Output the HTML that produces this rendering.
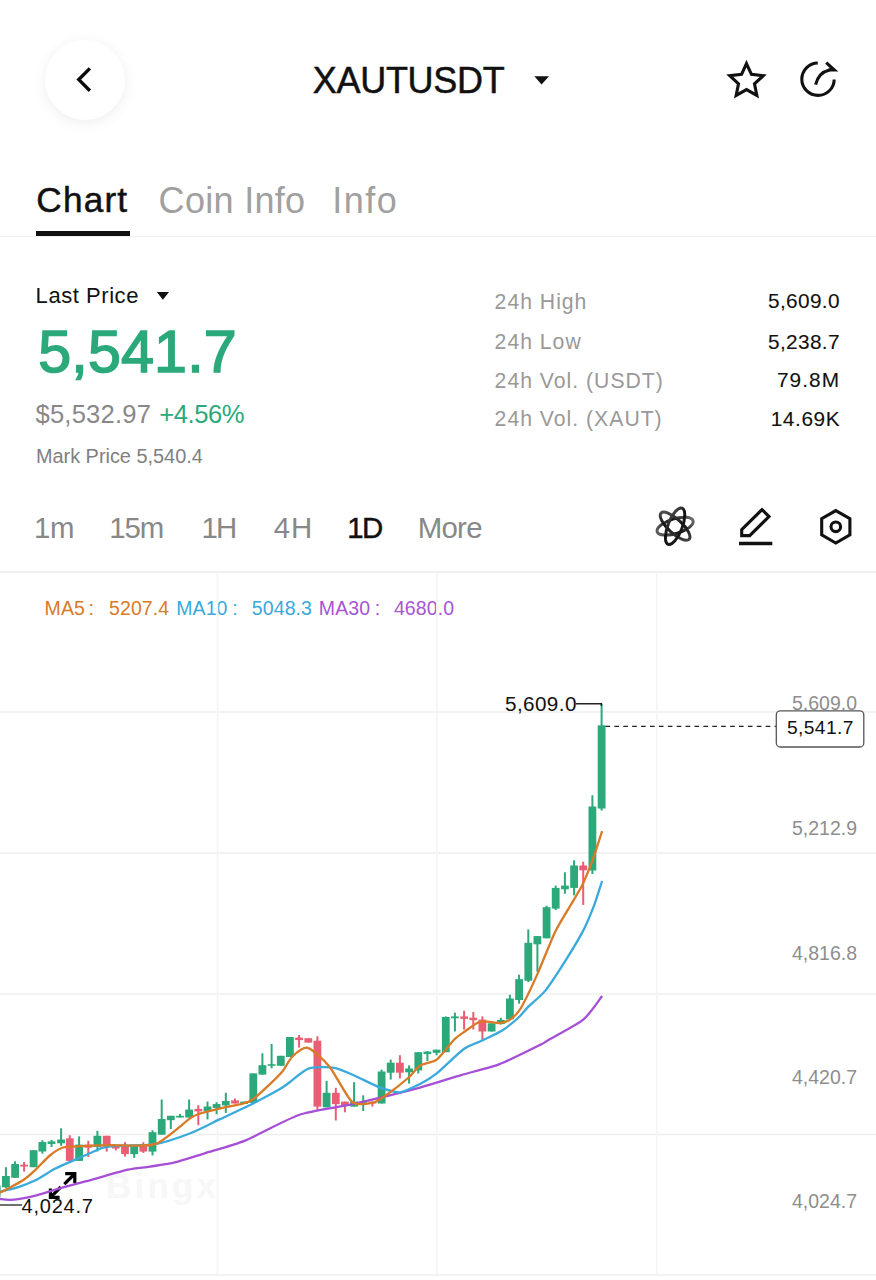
<!DOCTYPE html>
<html><head><meta charset="utf-8"><title>XAUTUSDT</title>
<style>
html,body{margin:0;padding:0;background:#fff;}
body{width:876px;height:1280px;position:relative;overflow:hidden;font-family:"Liberation Sans",sans-serif;}
.t{position:absolute;line-height:1;white-space:nowrap;font-family:"Liberation Sans",sans-serif;}
.ico{position:absolute;overflow:visible;}
.chart{position:absolute;left:0;top:0;}
.backbtn{position:absolute;left:45px;top:40px;width:80px;height:80px;border-radius:50%;background:#fff;box-shadow:0 3px 14px rgba(0,0,0,0.07);}
</style></head><body>
<div class="backbtn"></div><svg class="ico" style="left:0;top:0" width="876" height="240"><polyline points="89.9,68.4 78.8,79.6 89.9,90.8" fill="none" stroke="#0A0A0A" stroke-width="3.4"/><polygon points="534.3,76.2 549,76.2 541.6,84.6" fill="#111"/><polygon points="746.50,63.60 751.44,74.40 763.24,75.76 754.49,83.80 756.85,95.44 746.50,89.60 736.15,95.44 738.51,83.80 729.76,75.76 741.56,74.40" fill="none" stroke="#111" stroke-width="3.1" stroke-linejoin="miter" stroke-miterlimit="10"/><path d="M 817.8 63 A 16.2 16.2 0 1 0 834.2 79.4" fill="none" stroke="#111" stroke-width="3.1"/><path d="M 815.6 84.6 Q 818.5 72.5 829.5 70" fill="none" stroke="#111" stroke-width="3.1"/><polyline points="826.2,62.6 834.3,70 828.5,69.9" fill="none" stroke="#111" stroke-width="3.1" stroke-linejoin="miter"/></svg><div class="t" style="left:312.8px;top:63.1px;font-size:36.0px;color:#111;font-weight:400;letter-spacing:-0.3px;-webkit-text-stroke:0.5px #111;">XAUTUSDT</div>
<div class="t" style="left:36.3px;top:181.7px;font-size:35.2px;color:#111;font-weight:400;letter-spacing:1.2px;-webkit-text-stroke:0.5px #111;">Chart</div>
<div class="t" style="left:158.6px;top:182.8px;font-size:36.0px;color:#A0A0A0;font-weight:400;letter-spacing:0.3px;">Coin Info</div>
<div class="t" style="left:332.2px;top:182.8px;font-size:36.0px;color:#A0A0A0;font-weight:400;letter-spacing:1.5px;">Info</div>
<div style="position:absolute;left:36px;top:231px;width:94px;height:4.8px;background:#111"></div><div style="position:absolute;left:0;top:236px;width:876px;height:1.2px;background:#F0F0F0"></div><div class="t" style="left:35.6px;top:284.9px;font-size:22.0px;color:#111;font-weight:400;letter-spacing:0.55px;">Last Price</div>
<svg class="ico" style="left:150px;top:285px" width="30" height="20"><polygon points="6.8,7 19,7 12.9,14.7" fill="#111"/></svg><div class="t" style="left:38.3px;top:321.9px;font-size:59.2px;color:#2CA97A;font-weight:400;letter-spacing:0.15px;-webkit-text-stroke:1.6px #2CA97A;">5,541.7</div>
<div class="t" style="left:35.5px;top:401.6px;font-size:25.6px;color:#888;font-weight:400;letter-spacing:0.2px;">$5,532.97</div>
<div class="t" style="left:159.3px;top:401.6px;font-size:25.6px;color:#2CA97A;font-weight:400;letter-spacing:-0.45px;">+4.56%</div>
<div class="t" style="left:35.9px;top:447.0px;font-size:19.9px;color:#808080;font-weight:400;">Mark Price 5,540.4</div>
<div class="t" style="left:494.6px;top:290.7px;font-size:21.2px;color:#999;font-weight:400;letter-spacing:1.0px;">24h High</div>
<div class="t" style="left:768.0px;top:291.0px;font-size:20.8px;color:#111;font-weight:400;letter-spacing:0.35px;-webkit-text-stroke:0.1px #111;">5,609.0</div>
<div class="t" style="left:494.6px;top:331.2px;font-size:21.2px;color:#999;font-weight:400;letter-spacing:1.0px;">24h Low</div>
<div class="t" style="left:768.0px;top:331.5px;font-size:20.8px;color:#111;font-weight:400;letter-spacing:0.35px;-webkit-text-stroke:0.1px #111;">5,238.7</div>
<div class="t" style="left:494.6px;top:369.8px;font-size:21.2px;color:#999;font-weight:400;letter-spacing:1.0px;">24h Vol. (USDT)</div>
<div class="t" style="left:776.9px;top:370.1px;font-size:20.8px;color:#111;font-weight:400;letter-spacing:1.1px;-webkit-text-stroke:0.1px #111;">79.8M</div>
<div class="t" style="left:494.6px;top:408.3px;font-size:21.2px;color:#999;font-weight:400;letter-spacing:1.0px;">24h Vol. (XAUT)</div>
<div class="t" style="left:770.7px;top:408.6px;font-size:20.8px;color:#111;font-weight:400;letter-spacing:0.6px;-webkit-text-stroke:0.1px #111;">14.69K</div>
<div class="t" style="left:34.0px;top:512.8px;font-size:29.4px;color:#888;font-weight:400;letter-spacing:-0.4px;">1m</div>
<div class="t" style="left:109.2px;top:512.8px;font-size:29.4px;color:#888;font-weight:400;letter-spacing:-1.1px;">15m</div>
<div class="t" style="left:201.5px;top:512.8px;font-size:29.4px;color:#888;font-weight:400;letter-spacing:-1.9px;">1H</div>
<div class="t" style="left:273.8px;top:512.8px;font-size:29.4px;color:#888;font-weight:400;letter-spacing:0.9px;">4H</div>
<div class="t" style="left:347.3px;top:512.8px;font-size:29.4px;color:#111;font-weight:400;letter-spacing:-1.6px;-webkit-text-stroke:0.45px #111;">1D</div>
<div class="t" style="left:417.7px;top:512.8px;font-size:29.4px;color:#888;font-weight:400;letter-spacing:-0.7px;">More</div>
<div style="position:absolute;left:0;top:571px;width:876px;height:1.5px;background:#F0F0F0"></div><svg class="ico" style="left:0;top:0" width="876" height="600"><defs><linearGradient id="ga" gradientUnits="userSpaceOnUse" x1="695" y1="519" x2="656" y2="532"><stop offset="0" stop-color="#777"/><stop offset="0.5" stop-color="#111"/><stop offset="1" stop-color="#666"/></linearGradient><linearGradient id="gb" gradientUnits="userSpaceOnUse" x1="661" y1="512" x2="690" y2="541"><stop offset="0" stop-color="#666"/><stop offset="0.45" stop-color="#111"/><stop offset="1" stop-color="#555"/></linearGradient><linearGradient id="gc" gradientUnits="userSpaceOnUse" x1="682" y1="507" x2="669" y2="546"><stop offset="0" stop-color="#222"/><stop offset="0.55" stop-color="#111"/><stop offset="1" stop-color="#888"/></linearGradient></defs><g fill="none" stroke-width="3"><ellipse cx="675.1" cy="526.2" rx="18.8" ry="7.4" transform="rotate(-17 675.1 526.2)" stroke="url(#ga)"/><ellipse cx="675.1" cy="526.2" rx="19.2" ry="7" transform="rotate(43 675.1 526.2)" stroke="url(#gb)"/><ellipse cx="675.1" cy="526.2" rx="19.4" ry="7.2" transform="rotate(111 675.1 526.2)" stroke="url(#gc)"/></g><g fill="none" stroke="#111" stroke-width="3.1"><polygon points="741.7,529.6 762,509.6 769,516.6 749.7,535.6 741.7,535.6" stroke-linejoin="miter"/><line x1="739" y1="543.6" x2="772.3" y2="543.6" stroke-width="3.5"/><polygon points="835.8,510.6 849.9,518.7 849.9,534.9 835.8,543 821.7,534.9 821.7,518.7" stroke-linejoin="miter"/><circle cx="835.8" cy="526.8" r="4.8"/></g></svg><div class="t" style="left:44.6px;top:598.8px;font-size:19.5px;color:#D97A26;font-weight:400;letter-spacing:0.1px;">MA5</div>
<div class="t" style="left:88.6px;top:598.8px;font-size:19.5px;color:#D97A26;font-weight:400;letter-spacing:0.1px;">:</div>
<div class="t" style="left:109.0px;top:598.8px;font-size:19.5px;color:#D97A26;font-weight:400;letter-spacing:0.1px;">5207.4</div>
<div class="t" style="left:176.2px;top:598.8px;font-size:19.5px;color:#3AA9DC;font-weight:400;letter-spacing:0.1px;">MA10</div>
<div class="t" style="left:232.2px;top:598.8px;font-size:19.5px;color:#3AA9DC;font-weight:400;letter-spacing:0.1px;">:</div>
<div class="t" style="left:251.8px;top:598.8px;font-size:19.5px;color:#3AA9DC;font-weight:400;letter-spacing:0.1px;">5048.3</div>
<div class="t" style="left:318.8px;top:598.8px;font-size:19.5px;color:#A655D3;font-weight:400;letter-spacing:0.1px;">MA30</div>
<div class="t" style="left:374.8px;top:598.8px;font-size:19.5px;color:#A655D3;font-weight:400;letter-spacing:0.1px;">:</div>
<div class="t" style="left:393.9px;top:598.8px;font-size:19.5px;color:#A655D3;font-weight:400;letter-spacing:0.1px;">4680.0</div>

<div class="t" style="right:19.0px;top:694.3px;font-size:19.5px;color:#8E8E8E;font-weight:400;">5,609.0</div>
<div class="t" style="right:19.0px;top:819.0px;font-size:19.5px;color:#8E8E8E;font-weight:400;">5,212.9</div>
<div class="t" style="right:19.0px;top:944.2px;font-size:19.5px;color:#8E8E8E;font-weight:400;">4,816.8</div>
<div class="t" style="right:19.0px;top:1067.6px;font-size:19.5px;color:#8E8E8E;font-weight:400;">4,420.7</div>
<div class="t" style="right:19.0px;top:1192.4px;font-size:19.5px;color:#8E8E8E;font-weight:400;">4,024.7</div>

<svg class="chart" width="876" height="1280" viewBox="0 0 876 1280">
<line x1="0" y1="712" x2="876" y2="712" stroke="#EFEFEF" stroke-width="1.4"/>
<line x1="0" y1="853" x2="876" y2="853" stroke="#EFEFEF" stroke-width="1.4"/>
<line x1="0" y1="994" x2="876" y2="994" stroke="#EFEFEF" stroke-width="1.4"/>
<line x1="0" y1="1134.5" x2="876" y2="1134.5" stroke="#EFEFEF" stroke-width="1.4"/>
<line x1="0" y1="1275" x2="876" y2="1275" stroke="#EFEFEF" stroke-width="1.4"/>
<line x1="217.5" y1="572" x2="217.5" y2="1275" stroke="#F4F4F4" stroke-width="1.5"/>
<line x1="436.8" y1="572" x2="436.8" y2="1275" stroke="#F4F4F4" stroke-width="1.5"/>
<line x1="656.8" y1="572" x2="656.8" y2="1275" stroke="#F4F4F4" stroke-width="1.5"/>
<text x="106" y="1198" font-family="Liberation Sans" font-weight="700" font-size="35" fill="#F7F7F7" textLength="110">Bingx</text>
<rect x="-4.3" y="1180.0" width="2" height="25.0" fill="#2CA97A"/>
<rect x="-7.2" y="1185.4" width="7.8" height="11.3" fill="#2CA97A"/>
<rect x="4.9" y="1167.2" width="2" height="20.8" fill="#2CA97A"/>
<rect x="2.0" y="1176.0" width="7.8" height="11.3" fill="#2CA97A"/>
<rect x="14.1" y="1161.3" width="2" height="16.7" fill="#2CA97A"/>
<rect x="11.2" y="1164.0" width="7.8" height="13.8" fill="#2CA97A"/>
<rect x="23.1" y="1162.0" width="2" height="9.6" fill="#EA5E74"/>
<rect x="20.2" y="1164.7" width="7.8" height="1.8" fill="#EA5E74"/>
<rect x="32.6" y="1150.2" width="2" height="17.0" fill="#2CA97A"/>
<rect x="29.7" y="1150.2" width="7.8" height="17.0" fill="#2CA97A"/>
<rect x="41.4" y="1140.2" width="2" height="13.5" fill="#2CA97A"/>
<rect x="38.5" y="1142.0" width="7.8" height="9.5" fill="#2CA97A"/>
<rect x="50.5" y="1140.0" width="2" height="7.0" fill="#2CA97A"/>
<rect x="47.6" y="1141.4" width="7.8" height="2.6" fill="#2CA97A"/>
<rect x="60.1" y="1128.3" width="2" height="17.5" fill="#2CA97A"/>
<rect x="57.2" y="1139.5" width="7.8" height="3.8" fill="#2CA97A"/>
<rect x="68.8" y="1135.2" width="2" height="25.7" fill="#EA5E74"/>
<rect x="65.9" y="1138.3" width="7.8" height="22.6" fill="#EA5E74"/>
<rect x="78.1" y="1136.4" width="2" height="24.5" fill="#2CA97A"/>
<rect x="75.2" y="1144.6" width="7.8" height="16.3" fill="#2CA97A"/>
<rect x="87.3" y="1140.8" width="2" height="16.3" fill="#EA5E74"/>
<rect x="84.4" y="1144.6" width="7.8" height="3.1" fill="#EA5E74"/>
<rect x="96.4" y="1130.8" width="2" height="20.7" fill="#2CA97A"/>
<rect x="93.5" y="1135.8" width="7.8" height="11.2" fill="#2CA97A"/>
<rect x="105.7" y="1135.8" width="2" height="15.8" fill="#EA5E74"/>
<rect x="102.8" y="1135.8" width="7.8" height="9.5" fill="#EA5E74"/>
<rect x="114.8" y="1144.7" width="2" height="5.7" fill="#EA5E74"/>
<rect x="111.9" y="1144.7" width="7.8" height="3.8" fill="#EA5E74"/>
<rect x="124.0" y="1142.2" width="2" height="14.4" fill="#EA5E74"/>
<rect x="121.1" y="1145.3" width="7.8" height="8.8" fill="#EA5E74"/>
<rect x="133.2" y="1144.7" width="2" height="13.2" fill="#2CA97A"/>
<rect x="130.3" y="1144.7" width="7.8" height="9.4" fill="#2CA97A"/>
<rect x="142.3" y="1142.2" width="2" height="10.7" fill="#EA5E74"/>
<rect x="139.4" y="1144.0" width="7.8" height="7.6" fill="#EA5E74"/>
<rect x="151.5" y="1130.3" width="2" height="25.1" fill="#2CA97A"/>
<rect x="148.6" y="1132.2" width="7.8" height="19.4" fill="#2CA97A"/>
<rect x="160.7" y="1099.5" width="2" height="35.2" fill="#2CA97A"/>
<rect x="157.8" y="1119.0" width="7.8" height="15.7" fill="#2CA97A"/>
<rect x="169.8" y="1115.8" width="2" height="13.2" fill="#2CA97A"/>
<rect x="166.9" y="1115.8" width="7.8" height="4.4" fill="#2CA97A"/>
<rect x="179.0" y="1114.0" width="2" height="3.5" fill="#2CA97A"/>
<rect x="176.1" y="1115.8" width="7.8" height="1.7" fill="#2CA97A"/>
<rect x="188.1" y="1099.5" width="2" height="18.0" fill="#2CA97A"/>
<rect x="185.2" y="1109.6" width="7.8" height="7.9" fill="#2CA97A"/>
<rect x="197.3" y="1105.2" width="2" height="20.0" fill="#EA5E74"/>
<rect x="194.4" y="1108.9" width="7.8" height="2.5" fill="#EA5E74"/>
<rect x="206.5" y="1101.5" width="2" height="17.9" fill="#2CA97A"/>
<rect x="203.6" y="1106.5" width="7.8" height="4.7" fill="#2CA97A"/>
<rect x="215.6" y="1102.2" width="2" height="12.0" fill="#2CA97A"/>
<rect x="212.7" y="1104.1" width="7.8" height="3.8" fill="#2CA97A"/>
<rect x="224.8" y="1092.8" width="2" height="20.1" fill="#2CA97A"/>
<rect x="221.9" y="1101.0" width="7.8" height="4.4" fill="#2CA97A"/>
<rect x="234.0" y="1098.5" width="2" height="5.0" fill="#EA5E74"/>
<rect x="231.1" y="1100.4" width="7.8" height="3.1" fill="#EA5E74"/>
<rect x="243.1" y="1101.6" width="2" height="2.3" fill="#2CA97A"/>
<rect x="240.2" y="1101.6" width="7.8" height="2.3" fill="#2CA97A"/>
<rect x="252.3" y="1073.4" width="2" height="29.5" fill="#2CA97A"/>
<rect x="249.4" y="1073.4" width="7.8" height="29.5" fill="#2CA97A"/>
<rect x="261.4" y="1053.3" width="2" height="21.3" fill="#2CA97A"/>
<rect x="258.5" y="1065.2" width="7.8" height="9.4" fill="#2CA97A"/>
<rect x="270.6" y="1043.9" width="2" height="24.4" fill="#2CA97A"/>
<rect x="267.7" y="1064.2" width="7.8" height="1.6" fill="#2CA97A"/>
<rect x="279.8" y="1055.8" width="2" height="10.0" fill="#2CA97A"/>
<rect x="276.9" y="1055.8" width="7.8" height="10.0" fill="#2CA97A"/>
<rect x="288.9" y="1037.0" width="2" height="20.0" fill="#2CA97A"/>
<rect x="286.0" y="1037.0" width="7.8" height="20.0" fill="#2CA97A"/>
<rect x="298.1" y="1035.0" width="2" height="12.6" fill="#EA5E74"/>
<rect x="295.2" y="1037.6" width="7.8" height="2.5" fill="#EA5E74"/>
<rect x="307.3" y="1038.2" width="2" height="4.4" fill="#EA5E74"/>
<rect x="304.4" y="1038.2" width="7.8" height="4.4" fill="#EA5E74"/>
<rect x="316.4" y="1036.3" width="2" height="73.5" fill="#EA5E74"/>
<rect x="313.5" y="1040.7" width="7.8" height="65.9" fill="#EA5E74"/>
<rect x="325.6" y="1080.9" width="2" height="26.4" fill="#2CA97A"/>
<rect x="322.7" y="1092.8" width="7.8" height="14.5" fill="#2CA97A"/>
<rect x="334.8" y="1087.8" width="2" height="32.7" fill="#EA5E74"/>
<rect x="331.9" y="1092.8" width="7.8" height="11.3" fill="#EA5E74"/>
<rect x="343.9" y="1101.6" width="2" height="10.7" fill="#EA5E74"/>
<rect x="341.0" y="1101.6" width="7.8" height="3.8" fill="#EA5E74"/>
<rect x="353.1" y="1082.2" width="2" height="24.4" fill="#2CA97A"/>
<rect x="350.2" y="1101.6" width="7.8" height="5.0" fill="#2CA97A"/>
<rect x="362.2" y="1095.3" width="2" height="15.7" fill="#2CA97A"/>
<rect x="359.3" y="1102.2" width="7.8" height="1.5" fill="#2CA97A"/>
<rect x="371.4" y="1101.6" width="2" height="5.0" fill="#EA5E74"/>
<rect x="368.5" y="1101.6" width="7.8" height="1.9" fill="#EA5E74"/>
<rect x="380.6" y="1069.6" width="2" height="33.9" fill="#2CA97A"/>
<rect x="377.7" y="1071.5" width="7.8" height="32.0" fill="#2CA97A"/>
<rect x="389.7" y="1059.6" width="2" height="20.0" fill="#2CA97A"/>
<rect x="386.8" y="1062.7" width="7.8" height="10.0" fill="#2CA97A"/>
<rect x="398.9" y="1055.2" width="2" height="23.2" fill="#EA5E74"/>
<rect x="396.0" y="1062.7" width="7.8" height="10.0" fill="#EA5E74"/>
<rect x="408.1" y="1065.4" width="2" height="18.2" fill="#2CA97A"/>
<rect x="405.2" y="1068.5" width="7.8" height="3.8" fill="#2CA97A"/>
<rect x="417.3" y="1052.2" width="2" height="21.3" fill="#2CA97A"/>
<rect x="414.4" y="1052.2" width="7.8" height="18.2" fill="#2CA97A"/>
<rect x="426.4" y="1051.0" width="2" height="10.0" fill="#2CA97A"/>
<rect x="423.5" y="1051.6" width="7.8" height="2.5" fill="#2CA97A"/>
<rect x="435.6" y="1049.7" width="2" height="5.6" fill="#2CA97A"/>
<rect x="432.7" y="1049.7" width="7.8" height="3.1" fill="#2CA97A"/>
<rect x="444.8" y="1016.4" width="2" height="35.8" fill="#2CA97A"/>
<rect x="441.9" y="1017.0" width="7.8" height="35.2" fill="#2CA97A"/>
<rect x="453.9" y="1012.6" width="2" height="18.9" fill="#2CA97A"/>
<rect x="451.0" y="1016.4" width="7.8" height="1.9" fill="#2CA97A"/>
<rect x="463.1" y="1010.8" width="2" height="18.8" fill="#EA5E74"/>
<rect x="460.2" y="1016.4" width="7.8" height="2.5" fill="#EA5E74"/>
<rect x="472.3" y="1012.0" width="2" height="17.6" fill="#EA5E74"/>
<rect x="469.4" y="1017.7" width="7.8" height="2.5" fill="#EA5E74"/>
<rect x="481.4" y="1016.4" width="2" height="24.5" fill="#EA5E74"/>
<rect x="478.5" y="1019.6" width="7.8" height="11.9" fill="#EA5E74"/>
<rect x="490.6" y="1023.3" width="2" height="8.2" fill="#2CA97A"/>
<rect x="487.7" y="1023.3" width="7.8" height="8.2" fill="#2CA97A"/>
<rect x="499.8" y="1017.8" width="2" height="6.8" fill="#2CA97A"/>
<rect x="496.9" y="1020.0" width="7.8" height="4.0" fill="#2CA97A"/>
<rect x="508.9" y="994.8" width="2" height="24.5" fill="#2CA97A"/>
<rect x="506.0" y="998.5" width="7.8" height="20.8" fill="#2CA97A"/>
<rect x="518.1" y="974.7" width="2" height="29.0" fill="#2CA97A"/>
<rect x="515.2" y="979.2" width="7.8" height="20.8" fill="#2CA97A"/>
<rect x="527.3" y="929.4" width="2" height="52.7" fill="#2CA97A"/>
<rect x="524.4" y="942.8" width="7.8" height="37.9" fill="#2CA97A"/>
<rect x="536.4" y="936.1" width="2" height="35.7" fill="#2CA97A"/>
<rect x="533.5" y="936.1" width="7.8" height="8.2" fill="#2CA97A"/>
<rect x="545.6" y="905.7" width="2" height="32.6" fill="#2CA97A"/>
<rect x="542.7" y="907.2" width="7.8" height="31.1" fill="#2CA97A"/>
<rect x="554.7" y="885.6" width="2" height="24.5" fill="#2CA97A"/>
<rect x="551.8" y="887.9" width="7.8" height="20.7" fill="#2CA97A"/>
<rect x="563.9" y="872.3" width="2" height="21.5" fill="#2CA97A"/>
<rect x="561.0" y="885.6" width="7.8" height="3.7" fill="#2CA97A"/>
<rect x="573.1" y="860.3" width="2" height="35.0" fill="#2CA97A"/>
<rect x="570.2" y="865.5" width="7.8" height="22.4" fill="#2CA97A"/>
<rect x="582.2" y="861.7" width="2" height="43.2" fill="#EA5E74"/>
<rect x="579.3" y="865.5" width="7.8" height="4.8" fill="#EA5E74"/>
<rect x="591.4" y="795.3" width="2" height="78.7" fill="#2CA97A"/>
<rect x="588.5" y="806.5" width="7.8" height="64.0" fill="#2CA97A"/>
<rect x="600.6" y="703.7" width="2" height="106.8" fill="#2CA97A"/>
<rect x="597.7" y="725.3" width="7.8" height="83.2" fill="#2CA97A"/>
<g stroke="#000" stroke-width="3.2" fill="none" stroke-linecap="butt" stroke-linejoin="miter"><polyline points="65.2,1173.7 74.8,1173.7 74.8,1183"/><line x1="74" y1="1174.5" x2="64.3" y2="1184.2"/><polyline points="50.4,1188.4 50.4,1197.4 59.6,1197.4"/><line x1="51.2" y1="1196.6" x2="60.8" y2="1187"/></g>
<path d="M 0.0 1199.0 C 1.3 1199.1 6.7 1200.3 11.0 1199.9 C 15.3 1199.5 30.3 1196.8 36.5 1195.3 C 42.7 1193.8 57.5 1188.9 63.9 1187.1 C 70.3 1185.3 83.8 1181.8 91.3 1179.8 C 98.8 1177.8 121.1 1171.2 127.9 1169.7 C 134.7 1168.2 144.5 1167.5 150.0 1166.6 C 155.5 1165.7 168.4 1164.0 174.8 1162.4 C 181.2 1160.8 196.5 1155.8 204.6 1153.3 C 212.7 1150.8 233.4 1145.4 244.4 1140.9 C 255.4 1136.4 286.3 1119.3 298.9 1115.0 C 311.5 1110.7 338.2 1107.4 352.3 1104.2 C 366.4 1101.0 407.3 1091.0 420.0 1087.6 C 432.7 1084.2 451.8 1077.8 461.1 1075.1 C 470.4 1072.4 490.3 1067.6 499.5 1064.1 C 508.7 1060.6 534.2 1047.8 540.0 1044.9 C 545.8 1042.0 544.1 1042.5 549.2 1039.5 C 554.3 1036.5 577.4 1024.4 583.6 1019.3 C 589.8 1014.2 599.9 998.8 602.1 996.1" fill="none" stroke="#A64FD6" stroke-width="2.3"/>
<path d="M 0.0 1191.7 C 2.1 1191.2 14.0 1188.5 18.3 1187.1 C 22.6 1185.7 32.2 1181.9 36.5 1179.8 C 40.8 1177.7 50.5 1171.0 54.8 1168.8 C 59.1 1166.6 69.2 1162.3 73.0 1160.6 C 76.8 1158.9 84.3 1155.7 87.7 1154.2 C 91.1 1152.7 99.3 1148.8 102.3 1147.8 C 105.3 1146.8 107.1 1146.4 113.2 1146.0 C 119.3 1145.6 146.1 1145.7 155.0 1144.2 C 163.9 1142.7 182.2 1136.4 189.7 1133.5 C 197.2 1130.6 212.2 1122.9 219.5 1119.4 C 226.8 1115.9 245.6 1107.2 252.6 1103.7 C 259.6 1100.2 274.7 1092.1 279.1 1089.6 C 283.5 1087.1 286.6 1084.5 290.0 1082.0 C 293.4 1079.5 303.4 1070.3 308.6 1068.6 C 313.8 1066.9 328.9 1066.9 334.5 1067.8 C 340.1 1068.7 351.6 1074.4 356.8 1076.7 C 362.0 1079.0 374.0 1085.3 379.0 1087.1 C 384.0 1088.9 395.0 1092.7 399.8 1092.3 C 404.6 1091.9 415.7 1086.2 420.0 1084.0 C 424.3 1081.8 431.3 1077.8 436.4 1073.7 C 441.5 1069.6 458.5 1052.8 463.8 1049.0 C 469.1 1045.2 477.1 1043.0 481.6 1040.8 C 486.1 1038.6 497.9 1033.2 502.2 1030.5 C 506.5 1027.8 515.5 1020.3 518.6 1017.5 C 521.7 1014.7 525.4 1009.6 528.6 1006.4 C 531.8 1003.2 541.4 995.6 545.8 990.1 C 550.2 984.6 562.0 966.2 566.4 959.2 C 570.8 952.2 580.4 936.1 583.6 929.9 C 586.8 923.7 591.7 911.6 593.9 905.9 C 596.1 900.2 601.1 883.9 602.1 881.0" fill="none" stroke="#3AA9DC" stroke-width="2.3"/>
<path d="M 0.0 1192.6 C 1.3 1192.0 8.2 1188.6 11.0 1187.1 C 13.8 1185.6 20.7 1181.9 23.7 1179.8 C 26.7 1177.7 33.5 1171.6 36.5 1168.8 C 39.5 1166.0 46.3 1158.5 49.3 1156.0 C 52.3 1153.5 59.3 1148.9 62.1 1147.8 C 64.9 1146.7 67.5 1146.9 73.0 1146.6 C 78.5 1146.3 100.0 1145.4 109.6 1145.1 C 119.2 1144.8 145.7 1147.3 155.0 1144.2 C 164.3 1141.1 184.5 1122.2 189.7 1118.6 C 194.9 1115.0 196.2 1114.8 199.7 1113.6 C 203.2 1112.4 214.5 1109.8 219.5 1108.6 C 224.5 1107.4 238.8 1104.8 242.7 1103.7 C 246.6 1102.6 249.9 1101.3 252.6 1099.5 C 255.3 1097.7 262.4 1091.2 265.9 1087.9 C 269.4 1084.6 279.3 1075.1 282.4 1071.4 C 285.5 1067.7 289.4 1059.3 292.4 1056.5 C 295.4 1053.7 303.5 1046.6 307.8 1047.8 C 312.1 1049.0 324.1 1060.1 329.3 1066.4 C 334.5 1072.7 347.2 1097.8 352.3 1102.0 C 357.4 1106.2 369.3 1103.4 373.1 1102.7 C 376.9 1102.0 380.8 1098.9 385.0 1096.0 C 389.2 1093.1 404.6 1081.1 408.7 1077.5 C 412.8 1073.9 416.7 1067.6 420.0 1065.5 C 423.3 1063.4 433.1 1062.3 437.1 1059.3 C 441.1 1056.3 450.9 1042.8 454.2 1039.5 C 457.5 1036.2 462.2 1033.3 465.2 1031.2 C 468.2 1029.1 476.3 1022.6 480.3 1021.6 C 484.3 1020.6 496.2 1023.2 499.5 1023.0 C 502.8 1022.8 506.6 1021.9 509.0 1020.3 C 511.4 1018.7 516.7 1014.8 520.0 1009.5 C 523.3 1004.2 533.2 983.5 537.2 974.6 C 541.2 965.7 550.8 941.0 554.4 933.4 C 558.0 925.8 564.9 914.8 568.1 909.3 C 571.3 903.8 579.0 891.7 581.8 886.1 C 584.6 880.5 589.8 867.6 592.2 861.2 C 594.6 854.8 600.9 834.7 602.1 831.2" fill="none" stroke="#D97A26" stroke-width="2.3"/>
<polyline points="576,703.8 601.4,703.8 601.4,706" fill="none" stroke="#222" stroke-width="1.4"/>
<line x1="0" y1="1205" x2="22" y2="1205" stroke="#222" stroke-width="1.3"/>
<line x1="605.5" y1="726.4" x2="776" y2="726.4" stroke="#222" stroke-width="1.4" stroke-dasharray="4.6,4.3"/>
<rect x="776.3" y="710.8" width="87.5" height="36.2" rx="4" fill="#fff" stroke="#555" stroke-width="1.3"/>
</svg>
<div class="t" style="left:787.0px;top:718.2px;font-size:19.2px;color:#111;font-weight:400;letter-spacing:0.4px;">5,541.7</div>

<div class="t" style="left:505.0px;top:693.7px;font-size:20.7px;color:#111;font-weight:400;letter-spacing:0.4px;">5,609.0</div>

<div class="t" style="left:21.6px;top:1195.5px;font-size:20.0px;color:#111;font-weight:400;letter-spacing:0.75px;">4,024.7</div>

</body></html>
